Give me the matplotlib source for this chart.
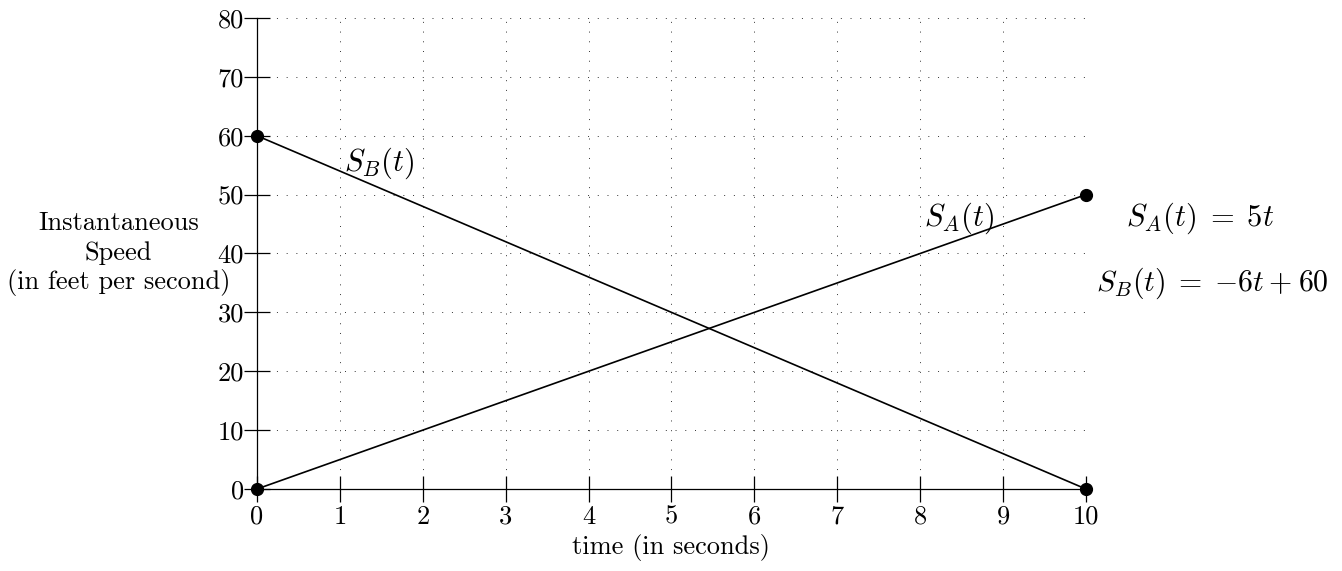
import matplotlib
matplotlib.use("Agg")
import matplotlib.pyplot as plt

# values
time_s = [0, 10]
speed_a = [0, 50]      # S_A(t) = 5t
speed_b = [60, 0]      # S_B(t) = -6t + 60
x_ticks = [0, 1, 2, 3, 4, 5, 6, 7, 8, 9, 10]
y_ticks = [0, 10, 20, 30, 40, 50, 60, 70, 80]
ylabel_lines = ["Instantaneous", "Speed", "(in feet per second)"]

plt.rcParams["font.family"] = ["cmr10", "DejaVu Serif"]
plt.rcParams["mathtext.fontset"] = "cm"
plt.rcParams["axes.formatter.use_mathtext"] = True

fig = plt.figure(figsize=(13.42, 5.71), dpi=100)
ax = fig.add_axes([0.1915, 0.1436, 0.6177, 0.8249])

# curves with end points
ax.plot(time_s, speed_a, color="black", lw=1.2, zorder=3)
ax.plot(time_s, speed_b, color="black", lw=1.2, zorder=3)
ax.plot(time_s, speed_a, "o", color="black", ms=8.5, clip_on=False, zorder=4)
ax.plot(time_s, speed_b, "o", color="black", ms=8.5, clip_on=False, zorder=4)

ax.set_xlim(0, 10)
ax.set_ylim(0, 80)
ax.set_xticks(x_ticks)
ax.set_yticks(y_ticks)
ax.set_xticklabels([str(v) for v in x_ticks])
ax.set_yticklabels([str(v) for v in y_ticks])
ax.tick_params(direction="inout", length=19, width=0.9, labelsize=19, pad=0)
ax.tick_params(axis="x", pad=2)

ax.grid(True, color="#333333", lw=0.7, linestyle=(0, (1, 9)))
ax.set_axisbelow(True)
for side in ("top", "right"):
    ax.spines[side].set_visible(False)
for side in ("left", "bottom"):
    ax.spines[side].set_linewidth(0.9)

# labels on the curves and the formulas
ax.text(1.48, 55.3, r"$S_B(t)$", fontsize=22, ha="center", va="center")
ax.text(8.47, 46, r"$S_A(t)$", fontsize=22, ha="center", va="center")
ax.text(10.48, 46, r"$S_A(t)\;=\;5t$", fontsize=22, ha="left",
        va="center", clip_on=False)
ax.text(10.12, 35, r"$S_B(t)\;=\;{-}6t\:+\:60$", fontsize=21.5, ha="left",
        va="center", clip_on=False)

# y label as three centred lines (like the tikz node)
for line, y in zip(ylabel_lines, [45.2, 40.1, 35.0]):
    ax.text(-1.67, y, line, fontsize=19, ha="center", va="center",
            clip_on=False)
ax.text(5, -10, "time (in seconds)", fontsize=19, ha="center", va="center",
        clip_on=False)

fig.savefig("out.png", dpi=100)
plt.close(fig)
